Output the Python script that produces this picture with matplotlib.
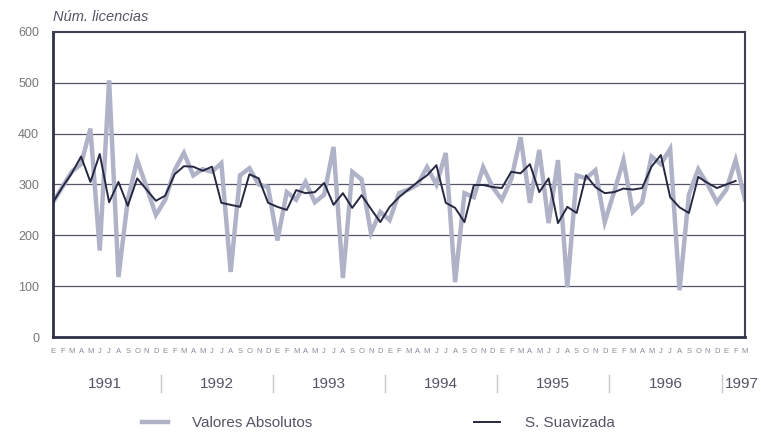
import numpy as np
import matplotlib.pyplot as plt

plt.rcParams['font.family'] = ['Liberation Sans', 'DejaVu Sans']

# monthly data, Jan 1991 - Mar 1997
month_letters = ['E', 'F', 'M', 'A', 'M', 'J', 'J', 'A', 'S', 'O', 'N', 'D']
years = ['1991', '1992', '1993', '1994', '1995', '1996', '1997']

valores_absolutos = [
    265, 295, 325, 340, 410, 170, 505, 118, 270, 348, 295, 240,   # 1991
    270, 328, 362, 318, 330, 325, 342, 128, 318, 332, 300, 295,   # 1992
    190, 285, 270, 305, 265, 280, 374, 116, 325, 310, 205, 246,   # 1993
    230, 283, 290, 300, 334, 300, 362, 108, 283, 275, 334, 295,   # 1994
    270, 310, 393, 264, 368, 224, 348, 98, 318, 312, 328, 226,    # 1995
    285, 348, 246, 265, 355, 340, 370, 92, 280, 330, 300, 265,    # 1996
    290, 348, 270,                                               # 1997
]

serie_suavizada = [
    265, 295, 322, 355, 305, 360, 265, 305, 258, 312, 290, 268,   # 1991
    278, 320, 336, 335, 327, 335, 264, 260, 256, 320, 312, 264,   # 1992
    256, 250, 289, 283, 285, 303, 260, 283, 254, 279, 252, 226,   # 1993
    256, 275, 290, 305, 318, 338, 264, 254, 226, 299, 299, 295,   # 1994
    293, 325, 322, 340, 285, 312, 224, 256, 244, 318, 295, 283,   # 1995
    285, 292, 290, 293, 335, 358, 275, 255, 244, 315, 303, 293,   # 1996
    300, 307,                                                    # 1997
]

n = len(valores_absolutos)
x = np.arange(n)
xs = np.arange(len(serie_suavizada))
labels = [month_letters[i % 12] for i in range(n)]

fig = plt.figure(figsize=(7.61, 4.32), dpi=100)
ax = fig.add_axes([53 / 761, 1 - 337 / 432, 692 / 761, 305 / 432])

for yv in range(100, 600, 100):
    ax.axhline(yv, color='#55566a', lw=0.9, zorder=1)

ax.plot(x, valores_absolutos, color='#b0b2c8', lw=3.2, zorder=2,
        solid_joinstyle='miter', label='Valores Absolutos')
ax.plot(xs, serie_suavizada, color='#262842', lw=1.4, zorder=3,
        label='S. Suavizada')

ax.set_xlim(0, n - 1)
ax.set_ylim(0, 600)
ax.set_yticks(range(0, 601, 100))
ax.tick_params(axis='y', length=0, labelsize=9, labelcolor='#777777', pad=10)
ax.set_xticks(x)
ax.set_xticklabels(labels)
ax.tick_params(axis='x', length=0, labelsize=5.5, labelcolor='#8a8a9a', pad=8)
for side in ['left', 'bottom']:
    ax.spines[side].set_linewidth(2.0)
    ax.spines[side].set_color('#303048')
for side in ['top', 'right']:
    ax.spines[side].set_linewidth(1.5)
    ax.spines[side].set_color('#404058')

ax.text(0, 1.025, 'Núm. licencias', transform=ax.transAxes, style='italic',
        fontsize=10.5, color='#555566', ha='left', va='bottom')

# year labels and separators under the month letters
trans = ax.get_xaxis_transform()
for k, yr in enumerate(years):
    start = k * 12
    end = min(start + 11, n - 1)
    if yr == '1997':
        ax.text(start - 0.1, -0.155, yr, transform=trans, ha='left', va='center',
                fontsize=11, color='#555566', clip_on=False)
    else:
        ax.text((start + end) / 2, -0.155, yr, transform=trans, ha='center',
                va='center', fontsize=11, color='#555566', clip_on=False)
    if k > 0:
        ax.plot([start - 0.5, start - 0.5], [-0.125, -0.18], transform=trans,
                color='#c8c8d0', lw=1.0, clip_on=False)

leg = fig.legend(loc='center left', bbox_to_anchor=(128 / 761, 1 - 423 / 432),
                 ncol=2, frameon=False, fontsize=11, handlelength=1.7,
                 handletextpad=1.6, columnspacing=10.6)
for t in leg.get_texts():
    t.set_color('#555566')

fig.savefig('out.png', dpi=100, facecolor='white')
